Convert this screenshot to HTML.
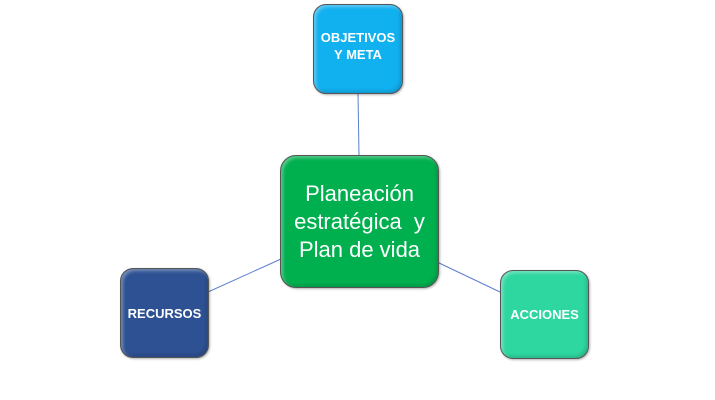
<!DOCTYPE html>
<html><head><meta charset="utf-8"><style>
body{margin:0;width:715px;height:400px;background:#fff;position:relative;overflow:hidden;font-family:"Liberation Sans",sans-serif}
.b{position:absolute;box-sizing:border-box;border:1.5px solid #555;border-radius:13px;display:flex;align-items:center;justify-content:center;text-align:center;color:#fff;font-weight:bold;box-shadow:inset 2px 2px 3px rgba(255,255,255,.35),inset -2px -2px 3px rgba(0,0,0,.15),1px 1px 2px rgba(0,0,0,.3)}
</style></head><body>
<svg width="715" height="400" style="position:absolute;left:0;top:0">
<g stroke="#5b7fd0" stroke-width="1"><line x1="358" y1="93" x2="359" y2="156"/><line x1="208" y1="292" x2="281" y2="259"/><line x1="437" y1="262" x2="500" y2="292"/></g>
</svg>
<div class="b" style="left:313px;top:4px;width:90px;height:90px;background:#11b0ef;font-size:13px;line-height:17px;padding-bottom:6px">OBJETIVOS<br>Y META</div>
<div class="b" style="left:280px;top:155px;width:159px;height:133px;background:#00b04f;font-weight:normal;font-size:22px;line-height:28px;border-radius:16px">Planeación<br>estratégica&nbsp; y<br>Plan de vida</div>
<div class="b" style="left:120px;top:268px;width:89px;height:90px;background:#2e5193;font-size:13px">RECURSOS</div>
<div class="b" style="left:500px;top:270px;width:89px;height:89px;background:#2ed6a0;font-size:13px">ACCIONES</div>
</body></html>
